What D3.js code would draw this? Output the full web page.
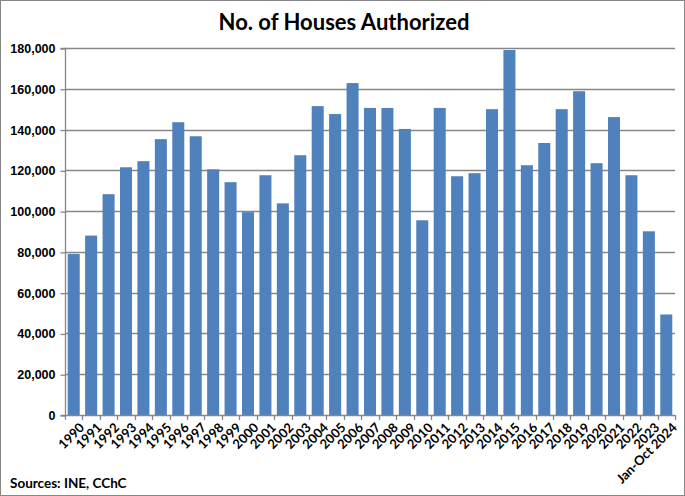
<!DOCTYPE html>
<html>
<head>
<meta charset="utf-8">
<script src="https://cdn.jsdelivr.net/npm/d3@7"></script>
<style>
  body { margin: 0; background: #fff; }
  svg { display: block; font-family: Lato, "Open Sans", sans-serif; }
  .c-axis text { font-weight: bold; font-size: 12.5px; fill: #000; }
  .c-xlabels text { font-size: 13px; }
</style>
</head>
<body>
<div id="chart"></div>
<script>
const years = ['1990', '1991', '1992', '1993', '1994', '1995', '1996', '1997', '1998', '1999',
  '2000', '2001', '2002', '2003', '2004', '2005', '2006', '2007', '2008', '2009',
  '2010', '2011', '2012', '2013', '2014', '2015', '2016', '2017', '2018', '2019',
  '2020', '2021', '2022', '2023', 'Jan-Oct 2024'];
const housesAuthorized = [79000, 88000, 108300, 121500, 124500, 135300, 143600, 136700, 120500, 114200,
  99500, 117600, 103800, 127400, 151500, 147600, 162800, 150600, 150600, 140300,
  95500, 150600, 117100, 118600, 150000, 179000, 122500, 133400, 150000, 158800,
  123500, 146100, 117600, 90100, 49300];
const yTicks = [0, 20000, 40000, 60000, 80000, 100000, 120000, 140000, 160000, 180000];

const width = 685;
const height = 496;
const margin = {top: 48, right: 10, bottom: 81, left: 65};
const plotRight = width - margin.right;
const plotBottom = height - margin.bottom;

const svg = d3.select('#chart')
  .append('svg')
  .attr('width', width)
  .attr('height', height);

// outer frame
svg.append('rect')
  .attr('x', 0.5).attr('y', 0.5)
  .attr('width', width - 1).attr('height', height - 1)
  .attr('fill', '#fff')
  .attr('stroke', '#868686');

svg.append('text')
  .attr('x', 344)
  .attr('y', 30)
  .attr('text-anchor', 'middle')
  .style('font-size', '22px')
  .style('font-weight', 'bold')
  .text('No. of Houses Authorized');

const xScale = d3.scaleBand().domain(years).range([margin.left, plotRight]).paddingInner(0.31).paddingOuter(0.155);
const yScale = d3.scaleLinear().domain([0, 180000]).range([plotBottom, margin.top]);

// gridlines
svg.append('g')
  .selectAll('line')
  .data(yTicks.slice(1))
  .enter()
  .append('line')
  .attr('x1', margin.left).attr('x2', plotRight)
  .attr('y1', (d) => Math.round(yScale(d)) + 0.5)
  .attr('y2', (d) => Math.round(yScale(d)) + 0.5)
  .attr('stroke', '#868686')
  .attr('stroke-width', 1.5);

svg.append('g')
  .attr('class', 'c-bars')
  .selectAll('rect')
  .data(housesAuthorized)
  .enter()
  .append('rect')
  .attr('x', (d, i) => xScale(years[i]))
  .attr('y', (d) => yScale(d))
  .attr('width', xScale.bandwidth())
  .attr('height', (d) => plotBottom - yScale(d))
  .attr('fill', '#4F81BD');

// y axis
const yAxis = d3.axisLeft(yScale).tickValues(yTicks).tickSize(5).tickPadding(5).tickFormat(d3.format(','));
const yG = svg.append('g')
  .attr('class', 'c-axis')
  .attr('transform', 'translate(' + (margin.left + 0.5) + ', 0.5)')
  .call(yAxis);
yG.selectAll('line, path').attr('stroke', '#868686').attr('stroke-width', 1.3);
yG.select('.domain').attr('d', 'M-5,' + plotBottom + 'H0V' + margin.top + 'H-5');

// x axis: ticks between categories
const boundaries = d3.range(years.length + 1).map((i) => margin.left + i * (plotRight - margin.left) / years.length);
const xG = svg.append('g').attr('class', 'c-axis c-xlabels');
xG.append('line')
  .attr('x1', margin.left).attr('x2', plotRight)
  .attr('y1', plotBottom + 0.5).attr('y2', plotBottom + 0.5)
  .attr('stroke', '#868686').attr('stroke-width', 1.3);
xG.selectAll('.tick-mark')
  .data(boundaries)
  .enter()
  .append('line')
  .attr('x1', (d) => Math.round(d) + 0.5).attr('x2', (d) => Math.round(d) + 0.5)
  .attr('y1', plotBottom).attr('y2', plotBottom + 5)
  .attr('stroke', '#868686').attr('stroke-width', 1.3);
xG.selectAll('.lbl')
  .data(years)
  .enter()
  .append('text')
  .attr('text-anchor', 'end')
  .attr('transform', (d) => 'translate(' + (xScale(d) + xScale.bandwidth() / 2 + 5) + ',' + (plotBottom + 7) + ') rotate(-45)')
  .attr('dy', '0.7em')
  .text((d) => d);

svg.append('text')
  .attr('x', 10)
  .attr('y', 488)
  .style('font-size', '13.5px')
  .style('font-weight', 'bold')
  .text('Sources: INE, CChC');
</script>
</body>
</html>
